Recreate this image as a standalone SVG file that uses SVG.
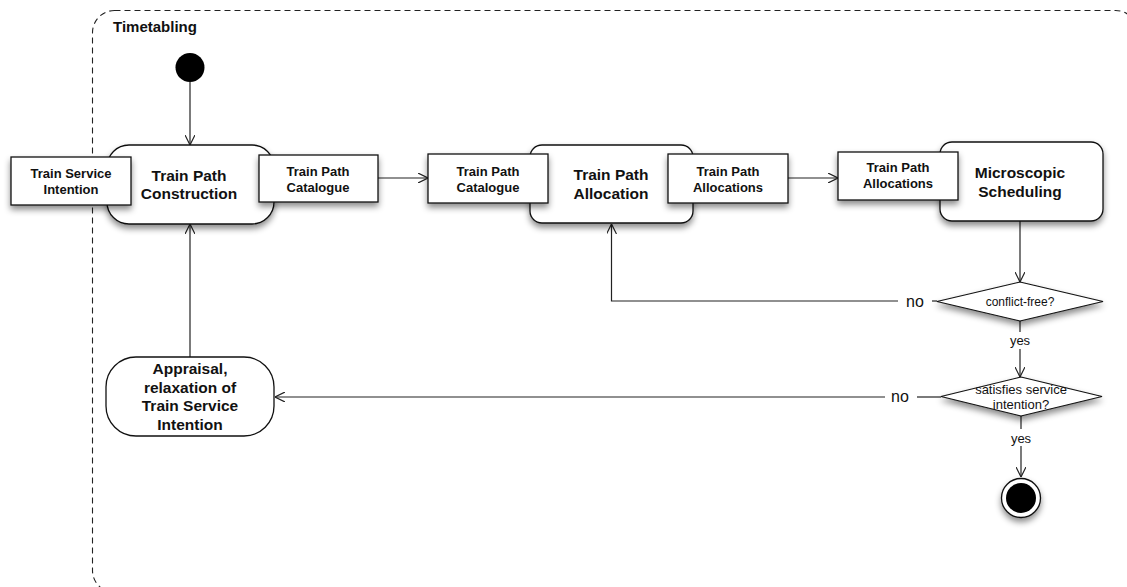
<svg xmlns="http://www.w3.org/2000/svg" width="1127" height="587" viewBox="0 0 1127 587">
  <defs>
    <filter id="shadow" x="-20%" y="-20%" width="140%" height="160%">
      <feDropShadow dx="0" dy="4" stdDeviation="3" flood-color="#000" flood-opacity="0.45"/>
    </filter>
    <marker id="arrow" viewBox="0 0 10 10" refX="10" refY="5" markerWidth="10" markerHeight="10" markerUnits="userSpaceOnUse" orient="auto">
      <path d="M0,0 L10,5 L0,10" fill="none" stroke="#222" stroke-width="1.2"/>
    </marker>
    <style>
      .frame { fill: none; stroke: #222; stroke-width: 1.1; stroke-dasharray: 6 4; }
      .action { fill: #fff; stroke: #111; stroke-width: 1.3; filter: url(#shadow); }
      .pin { fill: #fff; stroke: #111; stroke-width: 1.3; filter: url(#shadow); }
      .decision { fill: #fff; stroke: #111; stroke-width: 1.2; filter: url(#shadow); }
      .edge { fill: none; stroke: #222; stroke-width: 1.2; }
      .title { font-family: "Liberation Sans", Arial, sans-serif; font-weight: bold; font-size: 15.5px; fill: #111; text-anchor: middle; }
      .pinlabel { font-family: "Liberation Sans", Arial, sans-serif; font-weight: bold; font-size: 13px; fill: #111; text-anchor: middle; }
      .label { font-family: "Liberation Sans", Arial, sans-serif; font-size: 13px; fill: #111; text-anchor: middle; }
      .guard { font-family: "Liberation Sans", Arial, sans-serif; font-size: 16px; fill: #111; text-anchor: middle; }
      .small { font-size: 12px; }
    </style>
  </defs>

  <rect width="1127" height="587" fill="#fff"/>

  <!-- Activity frame -->
  <g id="frame">
    <rect class="frame" x="92.5" y="10.5" width="1045" height="582" rx="22" ry="22"/>
    <text x="113" y="32" font-family="Liberation Sans, Arial, sans-serif" font-weight="bold" font-size="15" fill="#111">Timetabling</text>
  </g>

  <!-- Connectors -->
  <g id="connectors">
    <line class="edge" x1="190" y1="82" x2="190" y2="145" marker-end="url(#arrow)"/>
    <line class="edge" x1="378" y1="178" x2="428" y2="178" marker-end="url(#arrow)"/>
    <line class="edge" x1="788" y1="178" x2="838" y2="178" marker-end="url(#arrow)"/>
    <line class="edge" x1="1020" y1="221" x2="1020" y2="282" marker-end="url(#arrow)"/>
    <!-- conflict-free? : no -->
    <line class="edge" x1="932" y1="301" x2="937" y2="301"/>
    <polyline class="edge" points="898,301 611.5,301 611.5,224" marker-end="url(#arrow)"/>
    <!-- conflict-free? : yes -->
    <line class="edge" x1="1020" y1="321" x2="1020" y2="332"/>
    <line class="edge" x1="1020" y1="349" x2="1020" y2="377" marker-end="url(#arrow)"/>
    <!-- satisfies service intention? : no -->
    <line class="edge" x1="917" y1="397" x2="941" y2="397"/>
    <line class="edge" x1="885" y1="397" x2="275" y2="397" marker-end="url(#arrow)"/>
    <!-- satisfies service intention? : yes -->
    <line class="edge" x1="1021" y1="416" x2="1021" y2="429"/>
    <line class="edge" x1="1021" y1="446" x2="1021" y2="477" marker-end="url(#arrow)"/>
    <!-- appraisal back to construction -->
    <line class="edge" x1="190" y1="357" x2="190" y2="224" marker-end="url(#arrow)"/>

    <text class="guard" x="915" y="306.5">no</text>
    <text class="label" x="1020" y="345">yes</text>
    <text class="guard" x="900" y="402">no</text>
    <text class="label" x="1021" y="443">yes</text>
  </g>

  <!-- Initial node -->
  <g id="start">
    <circle cx="190" cy="67.5" r="14.5" fill="#000"/>
  </g>

  <!-- Train Path Construction -->
  <g id="construction">
    <rect class="action" x="107" y="145" width="167" height="79" rx="22" ry="22"/>
    <text class="title" x="189" y="181">Train Path</text>
    <text class="title" x="189" y="199">Construction</text>
  </g>
  <g id="pin-tsi-in">
    <rect class="pin" x="11" y="157" width="120" height="48"/>
    <text class="pinlabel" x="71" y="178">Train Service</text>
    <text class="pinlabel" x="71" y="194">Intention</text>
  </g>
  <g id="pin-catalogue-out">
    <rect class="pin" x="259" y="155" width="119" height="47"/>
    <text class="pinlabel" x="318" y="176">Train Path</text>
    <text class="pinlabel" x="318" y="192">Catalogue</text>
  </g>

  <!-- Train Path Allocation -->
  <g id="allocation">
    <rect class="action" x="530" y="145" width="163" height="78" rx="12" ry="12"/>
    <text class="title" x="611" y="180">Train Path</text>
    <text class="title" x="611" y="199">Allocation</text>
  </g>
  <g id="pin-catalogue-in">
    <rect class="pin" x="428" y="154" width="120" height="49"/>
    <text class="pinlabel" x="488" y="176">Train Path</text>
    <text class="pinlabel" x="488" y="192">Catalogue</text>
  </g>
  <g id="pin-allocations-out">
    <rect class="pin" x="668" y="154" width="120" height="49"/>
    <text class="pinlabel" x="728" y="176">Train Path</text>
    <text class="pinlabel" x="728" y="192">Allocations</text>
  </g>

  <!-- Microscopic Scheduling -->
  <g id="scheduling">
    <rect class="action" x="940" y="142" width="163" height="79" rx="12" ry="12"/>
    <text class="title" x="1020" y="178">Microscopic</text>
    <text class="title" x="1020" y="197">Scheduling</text>
  </g>
  <g id="pin-allocations-in">
    <rect class="pin" x="838" y="152" width="120" height="48"/>
    <text class="pinlabel" x="898" y="172">Train Path</text>
    <text class="pinlabel" x="898" y="188">Allocations</text>
  </g>

  <!-- Decision: conflict-free? -->
  <g id="decision-conflict">
    <polygon class="decision" points="1020,282 1103,301.5 1020,321 937,301.5"/>
    <text class="label small" x="1020" y="306">conflict-free?</text>
  </g>

  <!-- Decision: satisfies service intention? -->
  <g id="decision-intention">
    <polygon class="decision" points="1021,377 1102,396.5 1021,416 941,396.5"/>
    <text class="label" x="1021" y="394">satisfies service</text>
    <text class="label" x="1021" y="409">intention?</text>
  </g>

  <!-- Appraisal -->
  <g id="appraisal">
    <rect class="action" x="106" y="357" width="168" height="79" rx="30" ry="30" style="filter:none"/>
    <text class="title" x="190" y="374">Appraisal,</text>
    <text class="title" x="190" y="393">relaxation of</text>
    <text class="title" x="190" y="411">Train Service</text>
    <text class="title" x="190" y="430">Intention</text>
  </g>

  <!-- Final node -->
  <g id="end">
    <circle cx="1021" cy="498" r="19.5" fill="#fff" stroke="#111" stroke-width="1.3" filter="url(#shadow)"/>
    <circle cx="1021" cy="498" r="15" fill="#000"/>
  </g>
</svg>
